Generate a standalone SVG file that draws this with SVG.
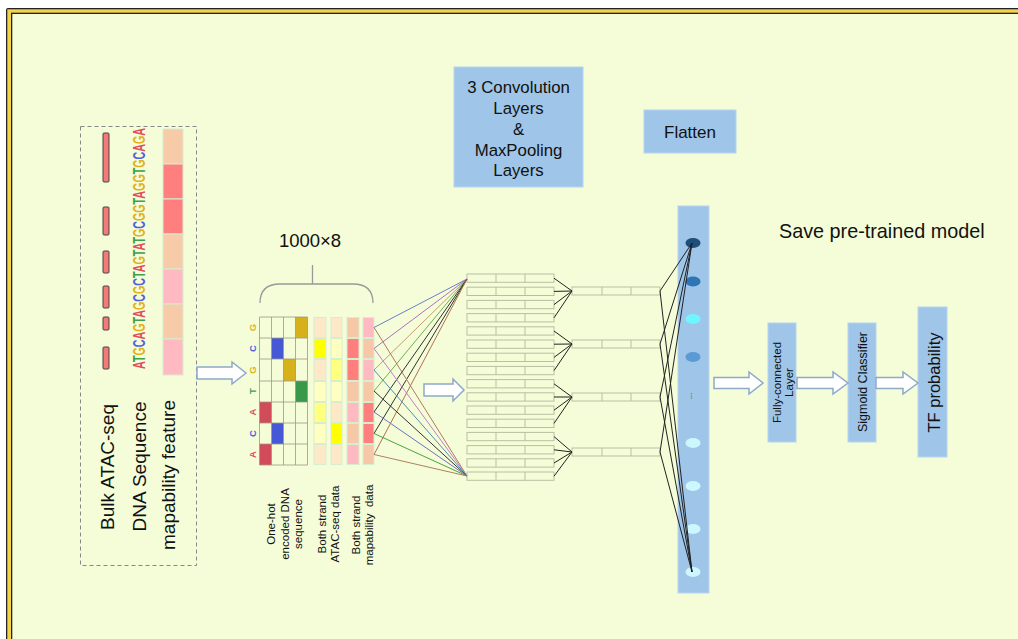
<svg xmlns="http://www.w3.org/2000/svg" width="1018" height="639" viewBox="0 0 1018 639">
<defs>
<style>
text{font-family:"Liberation Sans",Arial,sans-serif;fill:#111}
.box{fill:#9fc5e8;stroke:#b8d4ee;stroke-width:1}
.arrow{fill:#fff;stroke:#8ea9c9;stroke-width:1.5;stroke-linejoin:miter}
.oh{fill:none;stroke:#9a9a80;stroke-width:0.8}
.cell{stroke:#d6eed0;stroke-width:1}
.conv rect{fill:none;stroke:#b9bea2;stroke-width:1}
.conv line{stroke:#b9bea2;stroke-width:1}
.pool{stroke:#222;stroke-width:1;fill:none}
.lbl{font-size:11.5px}
.seq{font-weight:bold}
.A{fill:#e24d5c}.T{fill:#3f9f4c}.G{fill:#e2b11a}.C{fill:#4f5fe0}
</style>
</defs>

<!-- page frame -->
<rect x="0" y="0" width="1018" height="639" fill="#fff"/>
<rect x="6" y="8" width="1040" height="660" rx="2" fill="#222"/>
<rect x="7.3" y="9.3" width="1040" height="660" fill="#f3d34a"/>
<rect x="11" y="12.7" width="1040" height="660" fill="#222"/>
<rect x="12.3" y="14" width="1040" height="660" fill="#f4fdd8"/>

<!-- input features -->
<g id="input-features">
<rect x="80.5" y="126.5" width="116" height="439" fill="none" stroke="#888" stroke-dasharray="4,3"/>
<g fill="#f47a7a" stroke="#444" stroke-width="1">
<rect x="103" y="133" width="6" height="49" rx="1"/>
<rect x="103" y="207" width="6" height="28" rx="1"/>
<rect x="103" y="251" width="6" height="22" rx="1"/>
<rect x="103" y="286" width="6" height="22" rx="1"/>
<rect x="103" y="317" width="6" height="13" rx="1"/>
<rect x="103" y="347" width="6" height="22" rx="1"/>
</g>
<text class="seq" font-size="17" transform="translate(145,369) rotate(-90)" textLength="241" lengthAdjust="spacingAndGlyphs"><tspan class="A">A</tspan><tspan class="T">T</tspan><tspan class="G">G</tspan><tspan class="C">C</tspan><tspan class="A">A</tspan><tspan class="G">G</tspan><tspan class="T">T</tspan><tspan class="A">A</tspan><tspan class="G">G</tspan><tspan class="C">C</tspan><tspan class="G">G</tspan><tspan class="C">C</tspan><tspan class="T">T</tspan><tspan class="A">A</tspan><tspan class="G">G</tspan><tspan class="T">T</tspan><tspan class="A">A</tspan><tspan class="T">T</tspan><tspan class="G">G</tspan><tspan class="C">C</tspan><tspan class="G">G</tspan><tspan class="G">G</tspan><tspan class="T">T</tspan><tspan class="A">A</tspan><tspan class="G">G</tspan><tspan class="G">G</tspan><tspan class="T">T</tspan><tspan class="G">G</tspan><tspan class="C">C</tspan><tspan class="A">A</tspan><tspan class="G">G</tspan><tspan class="A">A</tspan></text>
<g class="cell">
<rect x="163" y="129" width="20" height="35" fill="#f7caa8"/>
<rect x="163" y="164" width="20" height="35" fill="#ff7f7f"/>
<rect x="163" y="199" width="20" height="35" fill="#ff7f7f"/>
<rect x="163" y="234" width="20" height="35" fill="#f7caa8"/>
<rect x="163" y="269" width="20" height="35" fill="#ffb9c1"/>
<rect x="163" y="304" width="20" height="35" fill="#f7caa8"/>
<rect x="163" y="339" width="20" height="36" fill="#ffb9c1"/>
</g>
<text font-size="19" text-anchor="middle" transform="translate(114,467) rotate(-90)">Bulk ATAC-seq</text>
<text font-size="19" text-anchor="middle" transform="translate(146,466.5) rotate(-90)">DNA Sequence</text>
<text font-size="19" text-anchor="middle" transform="translate(175,475) rotate(-90)">mapability feature</text>
</g>

<!-- encoded input matrix -->
<g id="input-matrix">
<text x="310" y="247" font-size="18.5" text-anchor="middle">1000×8</text>
<path d="M260,303 Q260,284 280,284 H353 Q373,284 373,303 M312.5,265 V284" fill="none" stroke="#999" stroke-width="1.3"/>
<g class="seq" font-size="9.5" text-anchor="middle">
<text class="G" transform="translate(256,327.5) rotate(-90)">G</text>
<text class="C" transform="translate(256,348.5) rotate(-90)">C</text>
<text class="G" transform="translate(256,370) rotate(-90)">G</text>
<text class="T" transform="translate(256,391) rotate(-90)">T</text>
<text class="A" transform="translate(256,412) rotate(-90)">A</text>
<text class="C" transform="translate(256,433.5) rotate(-90)">C</text>
<text class="A" transform="translate(256,454.5) rotate(-90)">A</text>
</g>
<!-- one-hot filled cells -->
<rect x="295.5" y="317" width="12" height="21" fill="#d6b11c"/>
<rect x="271.5" y="338" width="12" height="21" fill="#4658d6"/>
<rect x="283.5" y="359" width="12" height="22" fill="#d6b11c"/>
<rect x="295.5" y="381" width="12" height="21" fill="#3a984a"/>
<rect x="259.5" y="402" width="12" height="21" fill="#d24b5b"/>
<rect x="271.5" y="423" width="12" height="21" fill="#4658d6"/>
<rect x="259.5" y="444" width="12" height="21" fill="#d24b5b"/>
<path class="oh" d="M259.5,317 V465 M271.5,317 V465 M283.5,317 V465 M295.5,317 V465 M307.5,317 V465 M259.5,317 H307.5 M259.5,338 H307.5 M259.5,359 H307.5 M259.5,381 H307.5 M259.5,402 H307.5 M259.5,423 H307.5 M259.5,444 H307.5 M259.5,465 H307.5"/>
<!-- strand signal columns -->
<g class="cell">
<rect x="314" y="317.5" width="12" height="20" fill="#fde9c8"/>
<rect x="314" y="338.5" width="12" height="20" fill="#ffff00"/>
<rect x="314" y="359.5" width="12" height="21" fill="#fde9c8"/>
<rect x="314" y="381.5" width="12" height="20" fill="#ffffc2"/>
<rect x="314" y="402.5" width="12" height="20" fill="#ffff80"/>
<rect x="314" y="423.5" width="12" height="20" fill="#ffffc2"/>
<rect x="314" y="444.5" width="12" height="20" fill="#fde9c8"/>
<rect x="331" y="317.5" width="11" height="20" fill="#fde9c8"/>
<rect x="331" y="338.5" width="11" height="20" fill="#ffffc2"/>
<rect x="331" y="359.5" width="11" height="21" fill="#ffff80"/>
<rect x="331" y="381.5" width="11" height="20" fill="#ffffc2"/>
<rect x="331" y="402.5" width="11" height="20" fill="#fde9c8"/>
<rect x="331" y="423.5" width="11" height="20" fill="#ffff00"/>
<rect x="331" y="444.5" width="11" height="20" fill="#fde9c8"/>
<rect x="347" y="317.5" width="12" height="20" fill="#f7c8a8"/>
<rect x="347" y="338.5" width="12" height="20" fill="#ff7f7f"/>
<rect x="347" y="359.5" width="12" height="21" fill="#ff7f7f"/>
<rect x="347" y="381.5" width="12" height="20" fill="#f7c8a8"/>
<rect x="347" y="402.5" width="12" height="20" fill="#ffb9c1"/>
<rect x="347" y="423.5" width="12" height="20" fill="#f7c8a8"/>
<rect x="347" y="444.5" width="12" height="20" fill="#ffb9c1"/>
<rect x="363" y="317.5" width="11" height="20" fill="#ffb9c1"/>
<rect x="363" y="338.5" width="11" height="20" fill="#f7c8a8"/>
<rect x="363" y="359.5" width="11" height="21" fill="#ffb9c1"/>
<rect x="363" y="381.5" width="11" height="20" fill="#f7c8a8"/>
<rect x="363" y="402.5" width="11" height="20" fill="#ff7f7f"/>
<rect x="363" y="423.5" width="11" height="20" fill="#ff7f7f"/>
<rect x="363" y="444.5" width="11" height="20" fill="#f7c8a8"/>
</g>
<text class="lbl" text-anchor="middle" transform="translate(275,524) rotate(-90)"><tspan x="0" y="0">One-hot</tspan><tspan x="0" y="13.5">encoded DNA</tspan><tspan x="0" y="27">sequence</tspan></text>
<text class="lbl" text-anchor="middle" transform="translate(326,524) rotate(-90)"><tspan x="0" y="0">Both strand</tspan><tspan x="0" y="13">ATAC-seq data</tspan></text>
<text class="lbl" text-anchor="middle" transform="translate(360,525) rotate(-90)"><tspan x="0" y="0">Both strand</tspan><tspan x="0" y="12.5">mapability&#160; data</tspan></text>
</g>

<!-- convolution feature maps -->
<g id="conv-layers" class="conv">
<rect x="467" y="274" width="87" height="8.3"/><rect x="467" y="287.2" width="87" height="8.3"/><rect x="467" y="300.4" width="87" height="8.3"/><rect x="467" y="313.6" width="87" height="8.3"/>
<rect x="467" y="326.8" width="87" height="8.3"/><rect x="467" y="340" width="87" height="8.3"/><rect x="467" y="353.2" width="87" height="8.3"/><rect x="467" y="366.4" width="87" height="8.3"/>
<rect x="467" y="379.6" width="87" height="8.3"/><rect x="467" y="392.8" width="87" height="8.3"/><rect x="467" y="406" width="87" height="8.3"/><rect x="467" y="419.2" width="87" height="8.3"/>
<rect x="467" y="432.4" width="87" height="8.3"/><rect x="467" y="445.6" width="87" height="8.3"/><rect x="467" y="458.8" width="87" height="8.3"/><rect x="467" y="472" width="87" height="8.3"/>
<line x1="496" y1="274" x2="496" y2="480.3" stroke-dasharray="8.3,4.9"/>
<line x1="525" y1="274" x2="525" y2="480.3" stroke-dasharray="8.3,4.9"/>
</g>

<!-- pooled maps -->
<g id="pool-layers" class="conv">
<rect x="572" y="287" width="88" height="8"/>
<rect x="572" y="340" width="88" height="8"/>
<rect x="572" y="393" width="88" height="8"/>
<rect x="572" y="448" width="88" height="8"/>
<path d="M602,287 v8 M631,287 v8 M602,340 v8 M631,340 v8 M602,393 v8 M631,393 v8 M602,448 v8 M631,448 v8" fill="none" stroke="#b9bea2"/>
</g>

<!-- flatten column -->
<g id="flatten-column">
<rect x="678" y="206" width="31" height="387" fill="#9fc5e8" stroke="#b8d4ee"/>
<ellipse cx="693" cy="243" rx="7.5" ry="5" fill="#1f4e79"/>
<ellipse cx="693" cy="281.5" rx="7.5" ry="5" fill="#2e75b6"/>
<ellipse cx="693" cy="319" rx="7.5" ry="5" fill="#6ff5ff"/>
<ellipse cx="693" cy="357" rx="7.5" ry="5" fill="#5b9bd5"/>
<text font-size="8" text-anchor="middle" transform="translate(691,396) rotate(90)" fill="#333">...</text>
<ellipse cx="693" cy="443" rx="7.5" ry="5" fill="#cdf6ff"/>
<ellipse cx="693" cy="486" rx="7.5" ry="5" fill="#cdf6ff"/>
<ellipse cx="693" cy="529" rx="7.5" ry="5" fill="#cdf6ff"/>
<ellipse cx="693" cy="572" rx="7.5" ry="5" fill="#cdf6ff"/>
</g>

<!-- header boxes -->
<g id="conv-box">
<rect class="box" x="454" y="67" width="129" height="120"/>
<text font-size="16.8" text-anchor="middle"><tspan x="518.5" y="93">3 Convolution</tspan><tspan x="518.5" y="114">Layers</tspan><tspan x="518.5" y="135">&amp;</tspan><tspan x="518.5" y="155.5">MaxPooling</tspan><tspan x="518.5" y="176">Layers</tspan></text>
</g>
<g id="flatten-box">
<rect class="box" x="644" y="110" width="92" height="43"/>
<text x="690" y="138" font-size="17" text-anchor="middle">Flatten</text>
</g>
<g id="save-label">
<text x="779" y="238" font-size="19.8">Save pre-trained model</text>
</g>

<!-- classifier head -->
<g id="fc-layer">
<rect class="box" x="768" y="323" width="28" height="119"/>
<text font-size="11.5" text-anchor="middle" transform="translate(781,382.5) rotate(-90)"><tspan x="0" y="0">Fully-connected</tspan><tspan x="0" y="11.5">Layer</tspan></text>
</g>
<g id="sigmoid">
<rect class="box" x="848" y="323" width="28" height="119"/>
<text font-size="12.5" text-anchor="middle" transform="translate(866.5,382) rotate(-90)">Sigmoid Classifier</text>
</g>
<g id="tf-probability">
<rect class="box" x="918" y="307" width="29" height="150"/>
<text font-size="16.5" text-anchor="middle" transform="translate(940,382.5) rotate(-90)">TF probability</text>
</g>

<!-- connectors -->
<g id="connectors">
<g fill="none" stroke-width="1">
<!-- input columns to first feature map -->
<line x1="374" y1="327.5" x2="467" y2="279" stroke="#6a7fc8"/>
<line x1="374" y1="348.5" x2="467" y2="279" stroke="#b070c0"/>
<line x1="374" y1="370" x2="467" y2="279" stroke="#c0a070"/>
<line x1="374" y1="391" x2="467" y2="279" stroke="#6fb04f"/>
<line x1="374" y1="412" x2="467" y2="279" stroke="#333"/>
<line x1="374" y1="433.5" x2="467" y2="279" stroke="#333"/>
<line x1="374" y1="454.5" x2="467" y2="279" stroke="#b07050"/>
<line x1="374" y1="327.5" x2="467" y2="476" stroke="#b07a60"/>
<line x1="374" y1="348.5" x2="467" y2="476" stroke="#c080c8"/>
<line x1="374" y1="370" x2="467" y2="476" stroke="#5090b0"/>
<line x1="374" y1="391" x2="467" y2="476" stroke="#333"/>
<line x1="374" y1="412" x2="467" y2="476" stroke="#7070c0"/>
<line x1="374" y1="433.5" x2="467" y2="476" stroke="#50a040"/>
<line x1="374" y1="454.5" x2="467" y2="476" stroke="#b08060"/>
</g>
<g class="pool">
<path d="M554,278.2 L572,291 M554,291.4 L572,291 M554,304.6 L572,291 M554,317.8 L572,291"/>
<path d="M554,331 L572,344 M554,344.2 L572,344 M554,357.4 L572,344 M554,370.6 L572,344"/>
<path d="M554,383.8 L572,397 M554,397 L572,397 M554,410.2 L572,397 M554,423.4 L572,397"/>
<path d="M554,436.6 L572,452 M554,449.8 L572,452 M554,463 L572,452 M554,476.2 L572,452"/>
<path d="M660,291 L692,243 M660,344 L692,243 M660,397 L692,243 M660,452 L692,243"/>
<path d="M660,291 L692,572 M660,344 L692,572 M660,397 L692,572 M660,452 L692,572"/>
</g>
<path class="arrow" d="M197,367 H232 V362 L246,373 L232,384 V379 H197 Z"/>
<path class="arrow" d="M424,384 H453 V379 L464,390 L453,401 V396 H424 Z"/>
<path class="arrow" d="M714,377.5 H749 V372 L763,383 L749,394 V388.5 H714 Z"/>
<path class="arrow" d="M797,377.5 H833 V372 L848,383 L833,394 V388.5 H797 Z"/>
<path class="arrow" d="M876,377.5 H903 V372 L918,383 L903,394 V388.5 H876 Z"/>
</g>
</svg>
